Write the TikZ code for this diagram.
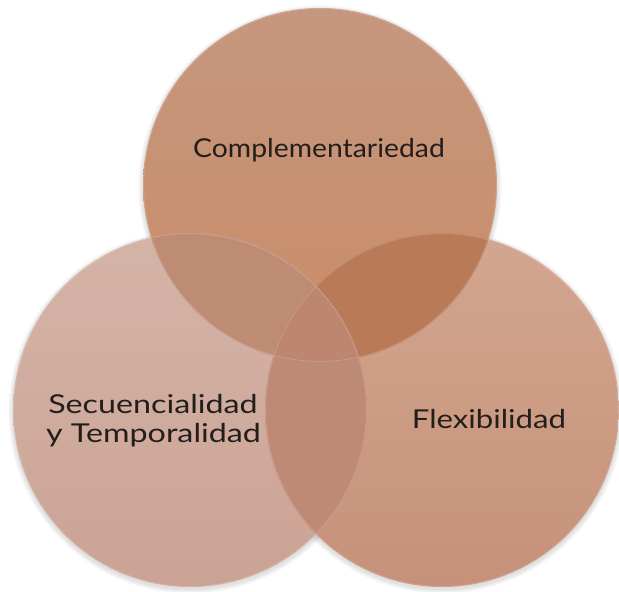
\documentclass[tikz,border=0pt]{standalone}
\usepackage{fontspec}
\setmainfont{Lato}
\definecolor{topA}{HTML}{C6977F}
\definecolor{topB}{HTML}{C98C66}
\definecolor{leftA}{HTML}{D4B4A7}
\definecolor{leftB}{HTML}{CBA395}
\definecolor{rightA}{HTML}{D3A68F}
\definecolor{rightB}{HTML}{C6917A}
\definecolor{ovTL}{HTML}{BE8B74}
\definecolor{ovTR}{HTML}{B97A57}
\definecolor{ovLR}{HTML}{BE8A75}
\definecolor{ovTLR}{HTML}{BE8670}
\definecolor{txt}{HTML}{231E1B}
\begin{document}
\begin{tikzpicture}[x=1pt,y=-1pt]
\tikzset{
  venn/.style={circle, minimum size=354pt, inner sep=0pt, outer sep=0pt},
  lbl/.style={text=txt, anchor=base, inner sep=0pt,
    font=\fontsize{26}{29}\selectfont\addfontfeature{FakeStretch=#1}},
  rim/.style={draw=white, draw opacity=0.18, line width=0.8pt},
}
\useasboundingbox (0,0) rectangle (619,592);
\def\R{177}
% soft shadows
\foreach \c in {(320,187),(190,412),(442,412)}{
  \foreach \k in {1,...,6}{
    \fill[black, opacity=0.018] \c circle ({\R+\k*0.8});
  }
}
% circles
\node[venn, top color=topA, bottom color=topB] (top) at (320,185) {};
\node[venn, top color=leftA, bottom color=leftB] (left) at (190,410) {};
\node[venn, top color=rightA, bottom color=rightB] (right) at (442,410) {};
% overlaps
\begin{scope}
  \clip (320,185) circle (\R);
  \fill[ovTL] (190,410) circle (\R);
\end{scope}
\begin{scope}
  \clip (320,185) circle (\R);
  \fill[ovTR] (442,410) circle (\R);
\end{scope}
\begin{scope}
  \clip (190,410) circle (\R);
  \fill[ovLR] (442,410) circle (\R);
\end{scope}
\begin{scope}
  \clip (320,185) circle (\R);
  \clip (190,410) circle (\R);
  \fill[ovTLR] (442,410) circle (\R);
\end{scope}
% rims
\draw[rim] (320,185) circle (\R-0.6);
\draw[rim] (190,410) circle (\R-0.6);
\draw[rim] (442,410) circle (\R-0.6);
% labels
\node[lbl=1.09] (tC) at (319,157) {Complementariedad};
\node[lbl=1.24] (tS1) at (153,413) {Secuencialidad};
\node[lbl=1.24] (tS2) at (153.5,442) {y Temporalidad};
\node[lbl=1.2] (tF) at (489,428) {Flexibilidad};
\end{tikzpicture}
\end{document}
